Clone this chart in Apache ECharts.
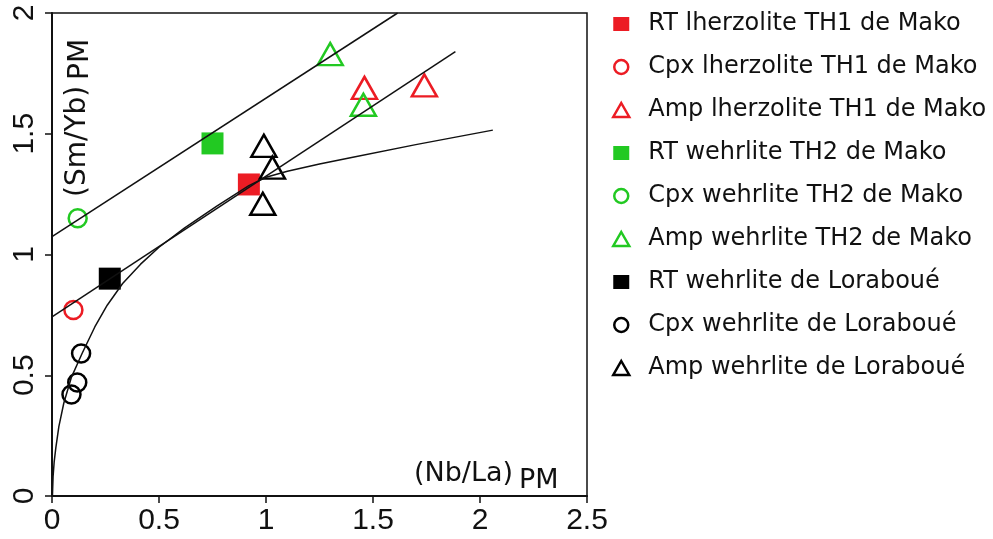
<!DOCTYPE html>
<html>
<head>
<meta charset="utf-8">
<title>(Sm/Yb)PM vs (Nb/La)PM</title>
<script src="https://cdn.jsdelivr.net/npm/echarts@6/dist/echarts.min.js"></script>
<style>
  html, body { margin: 0; padding: 0; background: #fff; }
  #main { width: 993px; height: 539px; }
</style>
</head>
<body>
<div id="main"></div>
<script>
// values: [ (Nb/La)PM , (Sm/Yb)PM ]
const rtLherzTH1 = [[0.92, 1.29]];
const cpxLherzTH1 = [[0.10, 0.77]];
const ampLherzTH1 = [[1.46, 1.69], [1.74, 1.70]];
const rtWehrTH2 = [[0.75, 1.46]];
const cpxWehrTH2 = [[0.12, 1.15]];
const ampWehrTH2 = [[1.30, 1.83], [1.455, 1.62]];
const rtWehrLor = [[0.27, 0.90]];
const cpxWehrLor = [[0.136, 0.59], [0.118, 0.47], [0.091, 0.42]];
const ampWehrLor = [[0.99, 1.45], [1.03, 1.36], [0.985, 1.21]];

// trend lines and curve
const upperTrend = [[0, 1.074], [1.615, 2.0]];
const lowerTrend = [[0, 0.742], [1.885, 1.84]];
const mixCurve = [
  [0.002, 0.0], [0.005, 0.08], [0.01, 0.14], [0.018, 0.2], [0.032, 0.287],
  [0.055, 0.384], [0.09, 0.49], [0.141, 0.591], [0.2, 0.70], [0.258, 0.79],
  [0.33, 0.88], [0.414, 0.96], [0.5, 1.03], [0.62, 1.11], [0.77, 1.20],
  [0.92, 1.285], [1.0, 1.32], [1.1, 1.345], [1.25, 1.375], [1.4, 1.402],
  [1.7, 1.455], [2.06, 1.515]
];

const legendNames = [
  'RT lherzolite TH1 de Mako',
  'Cpx lherzolite TH1 de Mako',
  'Amp lherzolite TH1 de Mako',
  'RT wehrlite TH2 de Mako',
  'Cpx wehrlite TH2 de Mako',
  'Amp wehrlite TH2 de Mako',
  'RT wehrlite de Loraboué',
  'Cpx wehrlite de Loraboué',
  'Amp wehrlite de Loraboué'
];

const RED = '#ec1c24';
const GREEN = '#22c922';
const BLACK = '#000';

function filled(name, data, color) {
  return {
    name: name, type: 'scatter', data: data,
    symbol: 'rect', symbolSize: 22,
    itemStyle: { color: color, opacity: 1 },
    z: 2
  };
}
function ring(name, data, color) {
  return {
    name: name, type: 'scatter', data: data,
    symbol: 'circle', symbolSize: 18,
    itemStyle: { color: 'rgba(255,255,255,0)', borderColor: color, borderWidth: 2.5, opacity: 1 },
    z: 2
  };
}
function tri(name, data, color) {
  return {
    name: name, type: 'scatter', data: data,
    symbol: 'triangle', symbolSize: [25, 22],
    itemStyle: { color: 'rgba(255,255,255,0)', borderColor: color, borderWidth: 2.5, opacity: 1 },
    z: 2
  };
}
function trend(data) {
  return {
    type: 'line', data: data, showSymbol: false, symbol: 'none',
    smooth: false,
    lineStyle: { color: '#111', width: 1.5 },
    z: 5, silent: true
  };
}

const chart = echarts.init(document.getElementById('main'));

chart.setOption({
  animation: false,
  backgroundColor: '#fff',
  grid: {
    left: 52, right: 406, top: 13, bottom: 43,
    show: true, borderColor: '#111', borderWidth: 1.5
  },
  xAxis: {
    type: 'value', min: 0, max: 2.5, interval: 0.5,
    splitLine: { show: false },
    axisLine: { lineStyle: { color: '#111', width: 2 } },
    axisTick: { length: 7, lineStyle: { color: '#111', width: 1.5 } },
    axisLabel: { margin: 10, color: '#111', fontSize: 30, fontFamily: 'Liberation Sans' }
  },
  yAxis: {
    type: 'value', min: 0, max: 2, interval: 0.5,
    splitLine: { show: false },
    axisLine: { lineStyle: { color: '#111', width: 2 } },
    axisTick: { length: 7, lineStyle: { color: '#111', width: 1.5 } },
    axisLabel: { rotate: 90, margin: 12, color: '#111', fontSize: 30, fontFamily: 'Liberation Sans' }
  },
  legend: {
    orient: 'vertical',
    left: 607, top: 7,
    itemWidth: 16, itemHeight: 14, itemGap: 19,
    symbolKeepAspect: true,
    itemStyle: { borderWidth: 2.5 },
    textStyle: { fontSize: 24, fontFamily: 'DejaVu Sans', color: '#111', padding: [0, 0, 0, 14] },
    selectedMode: false,
    data: legendNames
  },
  graphic: [
    { type: 'text', left: 414, top: 460,
      style: { text: '(Nb/La)', font: '27px "DejaVu Sans"', fill: '#111' } },
    { type: 'text', left: 519, top: 467,
      style: { text: 'PM', font: '27px "DejaVu Sans"', fill: '#111' } },
    { type: 'text', x: 92, y: 197, rotation: Math.PI / 2,
      style: { text: '(Sm/Yb)', font: '28px "DejaVu Sans"', fill: '#111',
               textAlign: 'left', textVerticalAlign: 'bottom' } },
    { type: 'text', x: 95, y: 80, rotation: Math.PI / 2,
      style: { text: 'PM', font: '28px "DejaVu Sans"', fill: '#111',
               textAlign: 'left', textVerticalAlign: 'bottom' } }
  ],
  series: [
    filled(legendNames[0], rtLherzTH1, RED),
    ring(legendNames[1], cpxLherzTH1, RED),
    tri(legendNames[2], ampLherzTH1, RED),
    filled(legendNames[3], rtWehrTH2, GREEN),
    ring(legendNames[4], cpxWehrTH2, GREEN),
    tri(legendNames[5], ampWehrTH2, GREEN),
    filled(legendNames[6], rtWehrLor, BLACK),
    ring(legendNames[7], cpxWehrLor, BLACK),
    tri(legendNames[8], ampWehrLor, BLACK),
    trend(upperTrend),
    trend(lowerTrend),
    trend(mixCurve)
  ]
});
</script>
</body>
</html>
